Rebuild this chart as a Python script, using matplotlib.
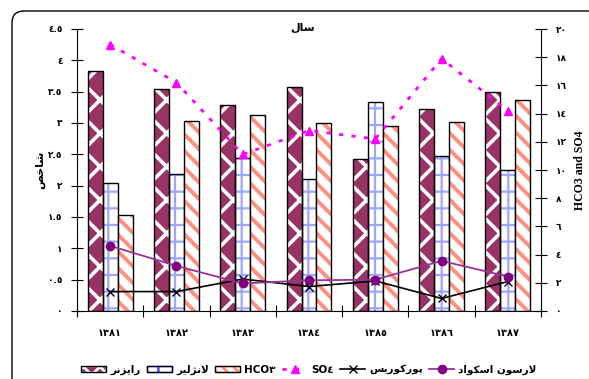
import matplotlib
matplotlib.use('Agg')
import matplotlib.pyplot as plt
from matplotlib.patches import FancyBboxPatch
from matplotlib.lines import Line2D
from matplotlib.patches import Patch
from matplotlib.legend_handler import HandlerTuple
import numpy as np

plt.rcParams['font.family'] = ['DejaVu Sans']

# Persian text is written with presentation forms in visual order (no shaping in matplotlib)
title_txt = '\uFEDD\uFE8E\uFEB3'                       # سال
ylabel_txt = '\uFEBA\uFEA7\uFE8E\uFEB7'                # شاخص
raizner_txt = '\uFEAE\uFEE7\uFEB0\uFEF3\uFE8D\uFEAD'   # رایزنر
lanzier_txt = '\uFEAE\uFEF4\uFEDF\uFB8B\uFEE7\uFEFB'   # لانژلیر
puck_txt = '\uFEB2\uFEF3\uFEAD\uFEEE\uFB90\uFEAD\uFEEE\uFB58'   # پورکوریس
larson_txt = '\uFEA9\uFE8D\uFEEE\uFB91\uFEB3\uFE8D \uFEE5\uFEEE\uFEB3\uFEAD\uFEFB'  # لارسون اسکواد

# data
years = ['\u0661\u0663\u0668\u0661', '\u0661\u0663\u0668\u0662', '\u0661\u0663\u0668\u0663',
         '\u0661\u0663\u0668\u0664', '\u0661\u0663\u0668\u0665', '\u0661\u0663\u0668\u0666',
         '\u0661\u0663\u0668\u0667']
raizner = [3.83, 3.54, 3.29, 3.57, 2.42, 3.22, 3.49]
lanzier = [2.05, 2.18, 2.44, 2.11, 3.34, 2.47, 2.25]
hco3 = [6.8, 13.5, 13.9, 13.3, 13.1, 13.4, 14.96]
so4 = [18.9, 16.2, 11.1, 12.8, 12.2, 17.9, 14.2]
larson = [1.04, 0.72, 0.44, 0.49, 0.50, 0.80, 0.55]
puck = [0.31, 0.31, 0.51, 0.39, 0.48, 0.20, 0.47]

left_ticks = [0, 0.5, 1, 1.5, 2, 2.5, 3, 3.5, 4, 4.5]
left_ticklabels = ['\u0660', '\u0660.\u0665', '\u0661', '\u0661.\u0665', '\u0662', '\u0662.\u0665',
                   '\u0663', '\u0663.\u0665', '\u0664', '\u0664.\u0665']
right_ticks = [0, 2, 4, 6, 8, 10, 12, 14, 16, 18, 20]
right_ticklabels = ['\u0660', '\u0662', '\u0664', '\u0666', '\u0668', '\u0661\u0660', '\u0661\u0662',
                    '\u0661\u0664', '\u0661\u0666', '\u0661\u0668', '\u0662\u0660']


def hatched_bar(axis, xs, hs, w, face, hcolor, hatch, hlw, z=2):
    bars = axis.bar(xs, hs, w, color=face, edgecolor=hcolor, hatch=hatch, linewidth=0, zorder=z)
    for b in bars:
        if hasattr(b, 'set_hatch_linewidth'):
            b.set_hatch_linewidth(hlw)
    axis.bar(xs, hs, w, fill=False, edgecolor='black', linewidth=1.0, zorder=z + 0.1)
    return bars


fig = plt.figure(figsize=(5.89, 3.79), dpi=100)
ax = fig.add_axes([77 / 589, 1 - 311 / 379, 464 / 589, 282 / 379])
ax2 = ax.twinx()

x = np.arange(len(years))
w = 0.225

plt.rcParams['hatch.linewidth'] = 2.0
hatched_bar(ax, x - w, raizner, w, '#993366', 'white', 'x', 2.6)
hatched_bar(ax, x, lanzier, w, 'white', '#9fa6ff', '+', 1.6)
hatched_bar(ax2, x + w, hco3, w, 'white', '#ff9080', '\\\\', 2.8)

ax2.plot(x, so4, color='#ff00ff', linestyle=(0, (1.5, 3)), linewidth=2, marker='^',
         markersize=6, zorder=5)
ax2.plot(x, puck, color='black', linewidth=1.2, marker='x', markersize=6,
         transform=ax.transData, zorder=6)
ax2.plot(x, larson, color='#993399', linewidth=1.3, marker='o', markersize=6,
         markerfacecolor='#800080', markeredgecolor='#800080', transform=ax.transData, zorder=7)

ax.set_xlim(-0.5, 6.5)
ax.set_ylim(0, 4.5)
ax2.set_ylim(0, 20)

for a in (ax, ax2):
    a.spines['top'].set_visible(False)
ax.spines['right'].set_visible(False)
ax2.spines['left'].set_visible(False)
ax2.spines['bottom'].set_visible(False)

ax.set_yticks(left_ticks)
ax.set_yticklabels(left_ticklabels, fontsize=6.5, fontweight='bold')
ax2.set_yticks(right_ticks)
ax2.set_yticklabels(right_ticklabels, fontsize=6.5, fontweight='bold')
ax.tick_params(axis='y', direction='inout', length=9, pad=6)
ax2.tick_params(axis='y', direction='inout', length=9, pad=6)

ax.set_xticks(np.arange(-0.5, 7, 1))
ax.set_xticklabels([])
ax.set_xticks(x, minor=True)
ax.set_xticklabels(years, minor=True, fontsize=7, fontweight='bold')
ax.tick_params(axis='x', which='major', direction='inout', length=9)
ax.tick_params(axis='x', which='minor', length=0, pad=12)

ax.set_ylabel(ylabel_txt, fontsize=8, fontweight='bold', labelpad=2)
ax2.set_ylabel('HCO3 and SO4', family='Liberation Serif', fontsize=8.5, fontweight='bold',
               labelpad=5, rotation=90)

fig.text(303 / 589, 1 - 28 / 379, title_txt, fontsize=8, fontweight='bold', ha='center', va='center')

outline = Patch(fill=False, edgecolor='black', linewidth=1.0)
handles = [
    (Patch(facecolor='#993366', edgecolor='white', hatch='xx'), outline),
    (Patch(facecolor='white', edgecolor='#5555ff', hatch='|'), outline),
    (Patch(facecolor='white', edgecolor='#ff9080', hatch='\\\\\\'), outline),
    Line2D([], [], color='#ff00ff', linestyle=(0, (1.5, 3)), linewidth=2, marker='^', markersize=6),
    Line2D([], [], color='black', linewidth=1.2, marker='x', markersize=6),
    Line2D([], [], color='#993399', linewidth=1.3, marker='o', markersize=6,
           markerfacecolor='#800080', markeredgecolor='#800080'),
]
labels = [raizner_txt, lanzier_txt, 'HCO\u0663', 'SO\u0664', puck_txt, larson_txt]
fig.legend(handles, labels, loc='center', bbox_to_anchor=(309 / 589, 1 - 370 / 379), ncol=6,
           frameon=False, prop={'size': 7.5, 'weight': 'bold'}, handlelength=2.4,
           handleheight=0.6, handletextpad=0.4, columnspacing=0.6, borderaxespad=0,
           handler_map={tuple: HandlerTuple(ndivide=1, pad=0)})

frame = FancyBboxPatch((0.12, -0.3), 6.2, 3.98, boxstyle='round,pad=0,rounding_size=0.12',
                       transform=fig.dpi_scale_trans, fill=False, edgecolor='black',
                       linewidth=1.0, clip_on=False)
fig.patches.append(frame)

fig.savefig('out.png', dpi=100)
